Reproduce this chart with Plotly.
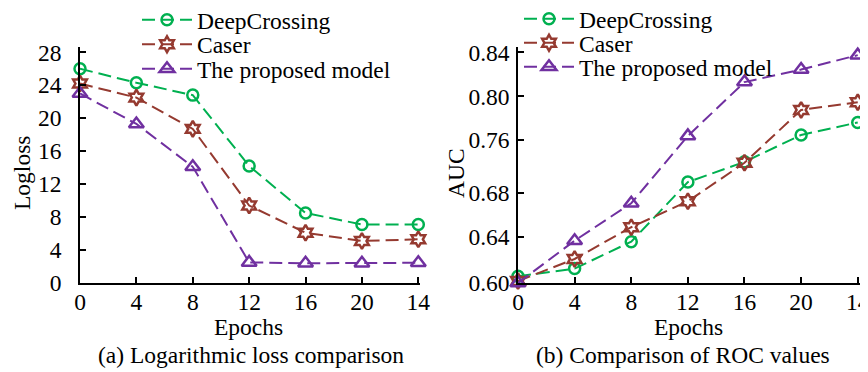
import plotly.graph_objects as go

# ---------------- data ----------------
epoch_labels = ["0", "4", "8", "12", "16", "20", "14"]
epoch_index = [0, 1, 2, 3, 4, 5, 6]

logloss_deepcrossing = [26.0, 24.3, 22.8, 14.2, 8.5, 7.1, 7.1]
logloss_caser = [24.2, 22.5, 18.7, 9.4, 6.1, 5.1, 5.3]
logloss_proposed = [23.0, 19.3, 14.1, 2.5, 2.4, 2.4, 2.45]
logloss_ticks = [0, 4, 8, 12, 16, 20, 24, 28]

auc_deepcrossing = [0.607, 0.615, 0.643, 0.705, 0.726, 0.754, 0.767]
auc_caser = [0.602, 0.625, 0.658, 0.685, 0.725, 0.780, 0.788]
auc_proposed = [0.600, 0.644, 0.683, 0.753, 0.809, 0.822, 0.837]
auc_tick_labels = ["0.60", "0.64", "0.68", "0.76", "0.80", "0.84"]
auc_tick_pos = [0.600, 0.648, 0.694, 0.749, 0.794, 0.840]

series_names = ["DeepCrossing", "Caser", "The proposed model"]

# ---------------- style ----------------
FONT = "Liberation Serif"
FS = 23.5
GREEN = "#00B050"
BROWN = "#953A30"
PURPLE = "#7030A0"
DASH = "13px,6px"

styles = [
    dict(color=GREEN, symbol="circle-open", size=11),
    dict(color=BROWN, symbol="hexagram-open", size=12),
    dict(color=PURPLE, symbol="triangle-up-open", size=13),
]

# page is 868x372; the html body has an 8px margin, so the figure is 860x364
PAGE_W, PAGE_H = 868, 372
OFF = 8
W, H = PAGE_W - OFF, PAGE_H - OFF

def px_x(p):
    return (p - OFF) / W

def px_y(p):
    return 1 - (p - OFF) / H

fig = go.Figure()

left_sets = [logloss_deepcrossing, logloss_caser, logloss_proposed]
right_sets = [auc_deepcrossing, auc_caser, auc_proposed]

left_legend_rows = [20, 44.5, 69]
right_legend_rows = [19, 43, 67]
left_legend_x = 137
right_legend_x = 519

legend_layouts = {}
k = 1
for sets, xa, ya, lx, rows in [
    (left_sets, "x", "y", left_legend_x, left_legend_rows),
    (right_sets, "x2", "y2", right_legend_x, right_legend_rows),
]:
    for name, vals, st, ry in zip(series_names, sets, styles, rows):
        lid = "legend" if k == 1 else f"legend{k}"
        fig.add_trace(go.Scatter(
            x=epoch_index, y=vals, name=name, mode="lines+markers",
            line=dict(color=st["color"], width=2, dash=DASH),
            marker=dict(symbol=st["symbol"], size=st["size"], color=st["color"],
                        line=dict(color=st["color"], width=2.5)),
            xaxis=xa, yaxis=ya, legend=lid, cliponaxis=False,
        ))
        legend_layouts[lid] = dict(
            x=px_x(lx), y=px_y(ry), xanchor="left", yanchor="middle",
            bgcolor="rgba(0,0,0,0)", font=dict(family=FONT, size=FS, color="black"),
            borderwidth=0, itemwidth=50,
        )
        k += 1

axis_common = dict(
    showline=True, linecolor="black", linewidth=1.5,
    ticks="inside", ticklen=6, tickwidth=1.5, tickcolor="black",
    showgrid=False, zeroline=False, automargin=False,
    ticklabeloverflow="allow",
    tickfont=dict(family=FONT, size=FS, color="black"),
)

fig.update_layout(
    width=W, height=H,
    margin=dict(l=0, r=0, t=0, b=0, autoexpand=False),
    paper_bgcolor="white", plot_bgcolor="white",
    font=dict(family=FONT, color="black"),
    showlegend=True,
    xaxis=dict(domain=[px_x(80), px_x(420)], range=[0, 6.03],
               tickvals=epoch_index, ticktext=epoch_labels,
               anchor="y", ticklabelstandoff=-3, **axis_common),
    yaxis=dict(domain=[px_y(283), px_y(46.5)], range=[0, 28.7],
               tickvals=logloss_ticks, anchor="x", ticklabelstandoff=12,
               **axis_common),
    xaxis2=dict(domain=[px_x(518), px_x(860)], range=[0, 6.04],
                tickvals=epoch_index, ticktext=epoch_labels,
                anchor="y2", ticklabelstandoff=-3, **axis_common),
    yaxis2=dict(domain=[px_y(283), px_y(46.5)], range=[0.600, 0.846],
                tickvals=auc_tick_pos, ticktext=auc_tick_labels,
                anchor="x2", ticklabelstandoff=2, **axis_common),
    **legend_layouts,
)

annos = [
    dict(text="Logloss", x=px_x(22), y=px_y(173), textangle=-90),
    dict(text="AUC", x=px_x(456), y=px_y(173), textangle=-90),
    dict(text="Epochs", x=px_x(248), y=px_y(326.5), textangle=0),
    dict(text="Epochs", x=px_x(688), y=px_y(326.5), textangle=0),
    dict(text="(a) Logarithmic loss comparison", x=px_x(251), y=px_y(355), textangle=0),
    dict(text="(b) Comparison of ROC values", x=px_x(683), y=px_y(355), textangle=0),
]
for a in annos:
    fig.add_annotation(text=a["text"], x=a["x"], y=a["y"], xref="paper", yref="paper",
                       xanchor="center", yanchor="middle", showarrow=False,
                       textangle=a["textangle"],
                       font=dict(family=FONT, size=FS, color="black"))

fig.write_html("out.html")
